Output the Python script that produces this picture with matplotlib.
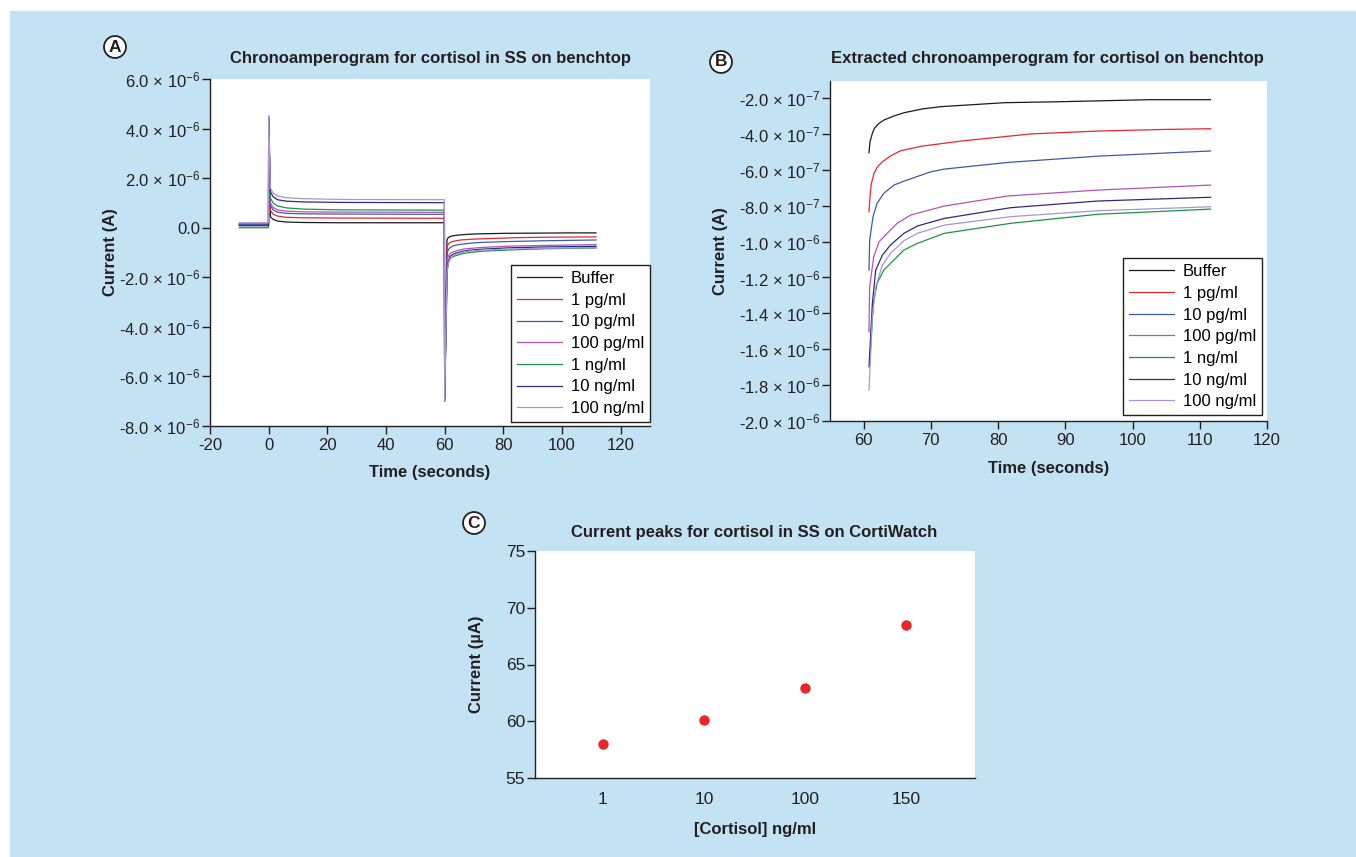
import matplotlib
matplotlib.use("Agg")
import matplotlib.pyplot as plt
from matplotlib.patches import Rectangle

plt.rcParams['font.family'] = ['Liberation Sans', 'DejaVu Sans']
plt.rcParams['mathtext.fontset'] = 'custom'
plt.rcParams['mathtext.rm'] = 'Liberation Sans'
plt.rcParams['mathtext.it'] = 'Liberation Sans:italic'
plt.rcParams['mathtext.bf'] = 'Liberation Sans:bold'
plt.rcParams['axes.unicode_minus'] = False

# ---- data ----
labels = ["Buffer", "1 pg/ml", "10 pg/ml", "100 pg/ml", "1 ng/ml", "10 ng/ml", "100 ng/ml"]
colors = ["#1a1a1a", "#e8262b", "#3b5aa8", "#b453b3", "#1c9248", "#2f2b7c", "#a994d4"]

# panel A, first step (time in s, current in 1e-6 A)
t_on = [-10, -0.05, 0.0, 0.6, 1.5, 3, 6, 12, 25, 59.9]
on_buffer = [0.10, 0.10, 4.3, 0.44, 0.34, 0.27, 0.23, 0.21, 0.20, 0.20]
on_1pg = [0.15, 0.15, 4.4, 0.70, 0.55, 0.47, 0.42, 0.40, 0.39, 0.38]
on_10pg = [0.12, 0.12, 4.4, 0.90, 0.72, 0.63, 0.58, 0.56, 0.55, 0.54]
on_100pg = [0.18, 0.18, 4.5, 1.00, 0.82, 0.72, 0.67, 0.64, 0.63, 0.62]
on_1ng = [0.00, 0.00, 4.2, 1.20, 1.00, 0.88, 0.80, 0.75, 0.72, 0.71]
on_10ng = [0.08, 0.08, 4.5, 1.45, 1.25, 1.13, 1.07, 1.04, 1.02, 1.01]
on_100ng = [0.20, 0.20, 4.5, 1.60, 1.40, 1.28, 1.21, 1.17, 1.14, 1.13]
spike_down = [-6.8, -6.9, -6.9, -7.0, -6.9, -7.0, -7.0]

# panel B, extracted second step (time in s, current in 1e-7 A)
t_buffer = [60.8, 60.95, 61.3, 61.6, 62.3, 63.0, 64.5, 66.0, 68.7, 71.5, 80.9, 89.8, 102.7, 111.6]
i_buffer = [-5.05, -4.43, -3.97, -3.69, -3.41, -3.23, -3.0, -2.82, -2.61, -2.48, -2.26, -2.20, -2.09, -2.09]
t_1pg = [60.8, 60.95, 61.15, 61.55, 62.05, 62.8, 64.0, 65.5, 68.7, 74.9, 84.9, 94.8, 104.7, 111.6]
i_1pg = [-8.34, -7.50, -6.76, -6.2, -5.83, -5.55, -5.23, -4.94, -4.68, -4.38, -4.00, -3.84, -3.75, -3.71]
t_10pg = [60.8, 60.9, 61.4, 62.0, 63.0, 64.5, 66.0, 70.0, 72.0, 81.4, 94.8, 111.6]
i_10pg = [-11.59, -9.92, -8.61, -7.87, -7.31, -6.85, -6.63, -6.11, -5.96, -5.59, -5.24, -4.95]
t_100pg = [60.8, 60.9, 61.5, 62.3, 63.5, 65.0, 67.0, 72.0, 81.4, 94.8, 111.6]
i_100pg = [-15.03, -12.52, -10.85, -10.01, -9.54, -8.98, -8.52, -8.02, -7.46, -7.13, -6.85]
t_1ng = [60.9, 61.45, 62.0, 63.0, 64.5, 66.0, 68.0, 72.0, 81.9, 94.8, 111.6]
i_1ng = [-16.8, -13.45, -12.33, -11.59, -11.03, -10.47, -10.10, -9.54, -8.98, -8.48, -8.19]
t_10ng = [60.8, 61.3, 61.8, 62.8, 64.0, 66.0, 68.0, 72.0, 81.9, 94.8, 111.6]
i_10ng = [-16.98, -13.45, -11.59, -10.75, -10.19, -9.54, -9.13, -8.71, -8.11, -7.74, -7.53]
t_100ng = [60.8, 61.3, 61.8, 62.8, 64.0, 66.0, 68.0, 72.0, 81.9, 94.8, 111.6]
i_100ng = [-18.28, -14.19, -12.52, -11.31, -10.66, -9.95, -9.54, -9.08, -8.61, -8.28, -8.06]

on_all = [on_buffer, on_1pg, on_10pg, on_100pg, on_1ng, on_10ng, on_100ng]
t_off_all = [t_buffer, t_1pg, t_10pg, t_100pg, t_1ng, t_10ng, t_100ng]
i_off_all = [i_buffer, i_1pg, i_10pg, i_100pg, i_1ng, i_10ng, i_100ng]

# panel C
conc_labels = ["1", "10", "100", "150"]
peak_current = [58.0, 60.1, 62.9, 68.5]

a_yticks = [6, 4, 2, 0, -2, -4, -6, -8]
a_yticklabels = ["6.0 × 10$^{-6}$", "4.0 × 10$^{-6}$", "2.0 × 10$^{-6}$", "0.0",
                 "-2.0 × 10$^{-6}$", "-4.0 × 10$^{-6}$", "-6.0 × 10$^{-6}$", "-8.0 × 10$^{-6}$"]
b_yticks = [-2, -4, -6, -8, -10, -12, -14, -16, -18, -20]
b_yticklabels = ["-2.0 × 10$^{-7}$", "-4.0 × 10$^{-7}$", "-6.0 × 10$^{-7}$", "-8.0 × 10$^{-7}$",
                 "-1.0 × 10$^{-6}$", "-1.2 × 10$^{-6}$", "-1.4 × 10$^{-6}$", "-1.6 × 10$^{-6}$",
                 "-1.8 × 10$^{-6}$", "-2.0 × 10$^{-6}$"]

bg = "#c3e3f5"
ink = "#231f20"

fig = plt.figure(figsize=(13.56, 8.57), dpi=100, facecolor="white")
fig.patches.append(Rectangle((10 / 1356, 0), 1, 1 - 11 / 857, transform=fig.transFigure,
                             facecolor=bg, edgecolor="none", zorder=-10))


def style(ax, size=12):
    ax.set_facecolor("white")
    for s in ["top", "right"]:
        ax.spines[s].set_visible(False)
    for s in ["left", "bottom"]:
        ax.spines[s].set_color(ink)
        ax.spines[s].set_linewidth(1.0)
    ax.tick_params(direction="out", length=6, width=1.0, color=ink, labelcolor=ink,
                   labelsize=size, pad=3)
    ax.tick_params(axis="y", pad=1)


legend_kw = dict(fontsize=12, frameon=True, fancybox=False, edgecolor=ink, framealpha=1,
                 handlelength=2.7, handletextpad=0.55, labelspacing=0.4, borderpad=0.35,
                 borderaxespad=0, loc="lower right")

# ---- A ----
axA = fig.add_axes([210 / 1356, 1 - 426 / 857, 440 / 1356, 347 / 857])
style(axA)
for k in range(7):
    t = t_on + [60.0] + t_off_all[k]
    v = on_all[k] + [spike_down[k]] + [x / 10 for x in i_off_all[k]]
    axA.plot(t, v, color=colors[k], lw=0.9, label=labels[k])
axA.set_xlim(-20, 130)
axA.set_ylim(-8, 6)
axA.set_xticks([-20, 0, 20, 40, 60, 80, 100, 120])
axA.set_yticks(a_yticks)
axA.set_yticklabels(a_yticklabels)
axA.set_xlabel("Time (seconds)", fontsize=12, fontweight="bold", color=ink, labelpad=8)
axA.set_ylabel("Current (A)", fontsize=12, fontweight="bold", color=ink, labelpad=1)
legA = axA.legend(bbox_to_anchor=(1.0, 0.012), **legend_kw)
legA.get_frame().set_linewidth(1.0)

# ---- B ----
axB = fig.add_axes([830 / 1356, 1 - 421 / 857, 437 / 1356, 340 / 857])
style(axB)
for k in range(7):
    axB.plot(t_off_all[k], i_off_all[k], color=colors[k], lw=0.9, label=labels[k])
axB.set_xlim(55, 120)
axB.set_ylim(-20, -1.05)
axB.set_xticks([60, 70, 80, 90, 100, 110, 120])
axB.set_yticks(b_yticks)
axB.set_yticklabels(b_yticklabels)
axB.set_xlabel("Time (seconds)", fontsize=12, fontweight="bold", color=ink, labelpad=9)
axB.set_ylabel("Current (A)", fontsize=12, fontweight="bold", color=ink, labelpad=8)
legB = axB.legend(bbox_to_anchor=(0.9886, 0.0176), **legend_kw)
legB.get_frame().set_linewidth(1.0)

# ---- C ----
axC = fig.add_axes([535 / 1356, 1 - 778 / 857, 440 / 1356, 227 / 857])
style(axC, size=12.5)
xpos = list(range(len(conc_labels)))
axC.plot(xpos, peak_current, "o", color="#e8262b", markersize=7.5, markeredgewidth=0)
axC.set_xlim(-0.67, 3.68)
axC.set_ylim(55, 75)
axC.set_xticks(xpos)
axC.set_xticklabels(conc_labels)
axC.set_yticks([55, 60, 65, 70, 75])
axC.tick_params(axis="x", length=0, pad=10)
axC.set_xlabel("[Cortisol] ng/ml", fontsize=12, fontweight="bold", color=ink, labelpad=11)
axC.set_ylabel("Current (µA)", fontsize=12, fontweight="bold", color=ink, labelpad=16)

# ---- titles and panel letters ----
fig.text(431 / 1356, 1 - 59 / 857, "Chronoamperogram for cortisol in SS on benchtop",
         ha="center", va="center", fontsize=12, fontweight="bold", color=ink)
fig.text(1047 / 1356, 1 - 58 / 857, "Extracted chronoamperogram for cortisol on benchtop",
         ha="center", va="center", fontsize=12, fontweight="bold", color=ink)
fig.text(754 / 1356, 1 - 532 / 857, "Current peaks for cortisol in SS on CortiWatch",
         ha="center", va="center", fontsize=12, fontweight="bold", color=ink)
for x, y, s in [(115, 47, "A"), (721, 62, "B"), (474, 523, "C")]:
    fig.text(x / 1356, 1 - y / 857, s, ha="center", va="center", fontsize=12.5,
             fontweight="bold", color=ink,
             bbox=dict(boxstyle="circle,pad=0.2", facecolor="white", edgecolor=ink, linewidth=1.3))

fig.savefig("out.png", dpi=100, facecolor="white")
